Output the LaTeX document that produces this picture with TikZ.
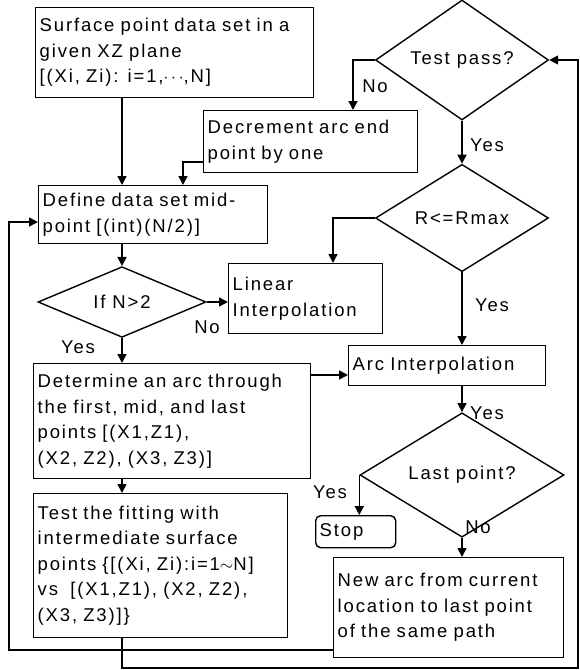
\documentclass[tikz,border=0pt]{standalone}
\usepackage{fontspec}
\setmainfont{Liberation Sans}[LetterSpace=10]
\usetikzlibrary{arrows.meta,shapes.geometric}
\begin{document}
\begin{tikzpicture}[x=1pt,y=-1pt,
  every node/.style={font=\fontsize{18.5}{25.5}\selectfont},
  box/.style={draw, line width=1.4pt, anchor=north west, inner xsep=4pt, inner ysep=0pt, align=left},
  dia/.style={draw, line width=1.4pt, diamond, inner sep=0pt},
  arr/.style={line width=1.6pt, -{Triangle[length=9pt,width=9pt]}},
  lbl/.style={inner sep=0pt}]
\useasboundingbox (0,0) rectangle (579,670);

% boxes
\node[box, minimum width=278pt, minimum height=90pt, text width=270pt] (src) at (35,7)
  {\mbox{Surface point data set in a}\\\mbox{given XZ plane}\\\mbox{[(Xi, Zi): i=1,$\cdots$,N]}};
\node[box, minimum width=214pt, minimum height=62pt, text width=206pt] (dec) at (203,110)
  {\mbox{Decrement arc end}\\\mbox{point by one}};
\node[box, minimum width=229pt, minimum height=58pt, text width=221pt] (mid) at (38,185)
  {\mbox{Define data set mid-}\\\mbox{point [(int)(N/2)]}};
\node[box, minimum width=154pt, minimum height=70pt, text width=146pt] (lin) at (228,263)
  {\mbox{Linear}\\\mbox{Interpolation}};
\node[box, minimum width=277pt, minimum height=115pt, text width=269pt] (det) at (33,363)
  {\mbox{Determine an arc through}\\\mbox{the first, mid, and last}\\\mbox{points [(X1,Z1),}\\\mbox{(X2, Z2), (X3, Z3)]}};
\node[box, minimum width=197pt, minimum height=40pt, text width=189pt] (arc) at (348,345)
  {\mbox{Arc Interpolation}};
\node[box, minimum width=254pt, minimum height=144pt, text width=246pt] (fit) at (33,493)
  {\mbox{Test the fitting with}\\\mbox{intermediate surface}\\\mbox{points \{[(Xi, Zi):i=1$\sim$N]}\\\mbox{vs\ \ [(X1,Z1), (X2, Z2),}\\\mbox{(X3, Z3)]\}}};
\node[box, rounded corners=5pt, minimum width=80pt, minimum height=32pt, text width=72pt] (stop) at (315,515)
  {\mbox{Stop}};
\node[box, minimum width=230pt, minimum height=100pt, text width=222pt] (new) at (333,557)
  {\mbox{New arc from current}\\\mbox{location to last point}\\\mbox{of the same path}};

% decisions
\node[dia, minimum width=173pt, minimum height=76pt] (tp) at (462,60) {Test pass?};
\node[dia, minimum width=173pt, minimum height=67pt] (rr) at (462,218) {R<=Rmax};
\node[dia, minimum width=168pt, minimum height=70pt] (n2) at (122,302) {If N>2};
\node[dia, minimum width=204pt, minimum height=70pt] (lp) at (462,475) {Last point?};

% helper coordinates
\coordinate (r162) at (0,162);
\coordinate (c183) at (183,0);
\coordinate (c353) at (353,0);
\coordinate (c333) at (333,0);
\coordinate (r375) at (0,375);
\coordinate (cE) at (9,650);
\coordinate (cF) at (9,222);
\coordinate (cG) at (122,668);
\coordinate (cH) at (578,668);
\coordinate (cI) at (578,60);

% connectors
\draw[arr] (src.south -| n2.north) -- (mid.north -| n2.north);
\draw[arr] (dec.west |- r162) -| (mid.north -| c183);
\draw[arr] (tp.west) -| (dec.north -| c353);
\draw[arr] (tp.south) -- (rr.north);
\draw[arr] (rr.west) -| (lin.north -| c333);
\draw[arr] (rr.south) -- (arc.north -| rr.south);
\draw[arr] (mid.south -| n2.north) -- (n2.north);
\draw[arr] (n2.east) -- (n2.east -| lin.west);
\draw[arr] (n2.south) -- (det.north -| n2.south);
\draw[arr] (det.east |- r375) -- (arc.west |- r375);
\draw[arr] (det.south -| n2.south) -- (fit.north -| n2.south);
\draw[arr] (arc.south -| lp.north) -- (lp.north);
\draw[arr] (lp.west) -- (lp.west |- stop.north);
\draw[arr] (lp.south) -- (new.north -| lp.south);
\draw[arr] (new.west |- cE) -- (cE) -- (cF) -- (mid.west |- cF);
\draw[arr] (fit.south -| n2.south) -- (cG) -- (cH) -- (cI) -- (tp.east);

% labels
\node[lbl] at (375,86) {No};
\node[lbl] at (487,145) {Yes};
\node[lbl] at (492,305) {Yes};
\node[lbl] at (487,413) {Yes};
\node[lbl] at (207,327) {No};
\node[lbl] at (78,347) {Yes};
\node[lbl] at (330,492) {Yes};
\node[lbl] at (478,527) {No};
\end{tikzpicture}
\end{document}
